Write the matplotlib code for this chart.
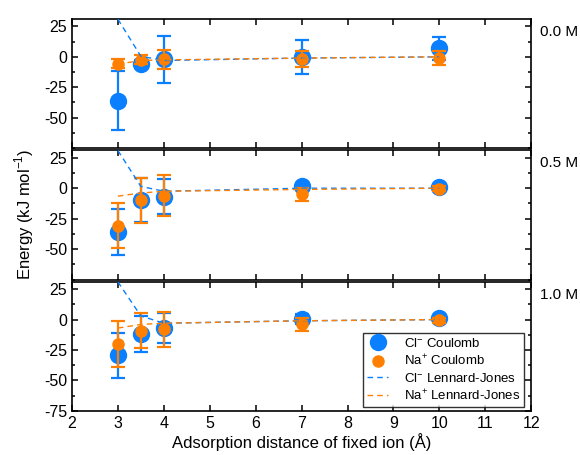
import matplotlib
matplotlib.use('Agg')
import matplotlib.pyplot as plt
from matplotlib.ticker import MultipleLocator

plt.rcParams['font.family'] = ['Liberation Sans', 'DejaVu Sans']
plt.rcParams['axes.unicode_minus'] = False
plt.rcParams['mathtext.fontset'] = 'custom'
plt.rcParams['mathtext.rm'] = 'Liberation Sans'

# Adsorption distances (Å) and salt concentrations
distances = [3, 3.5, 4, 7, 10]
conc_labels = ['0.0 M', '0.5 M', '1.0 M']

# Coulomb energies (kJ/mol) with error bars, one row per concentration
cl_coulomb = [[-36, -5.5, -2, -0.5, 7],
              [-36, -10, -7, 1.5, 1],
              [-29.5, -12, -7, 0.5, 1]]
cl_coulomb_err = [[24, 3, 19.5, 14, 9.5],
                  [19, 18, 14.5, 3, 2],
                  [18.5, 15, 12.5, 4, 2]]
na_coulomb = [[-5.5, -2.3, -2, -2, -1],
              [-31, -10, -6, -5, -0.5],
              [-20, -9, -8, -4, -0.5]]
na_coulomb_err = [[4, 3.7, 8, 6.5, 6],
                  [18.5, 18.5, 16.5, 5.5, 2],
                  [19, 14.5, 14.5, 5, 2]]

# Lennard-Jones energies (kJ/mol)
cl_lj = [[31, 0.5, -3, -1, 0],
         [31, 1.5, -2.5, 0, 0],
         [31, 3, -3, -1, 0]]
na_lj = [[-6, -3, -2.5, -1, 0],
         [-6.5, -4, -2.5, -1, 0],
         [-7, -4, -3, -1, 0]]

blue = '#0a7fff'
orange = '#ff8000'

fig, axes = plt.subplots(3, 1, figsize=(5.8, 4.55), dpi=100, sharex=True)
fig.subplots_adjust(left=0.124, right=0.916, top=0.958, bottom=0.097, hspace=0.018)

for i, ax in enumerate(axes):
    ax.errorbar(distances, cl_coulomb[i], yerr=cl_coulomb_err[i], fmt='none',
                ecolor=blue, elinewidth=1.6, capsize=4.7, capthick=1.6, zorder=2)
    ax.plot(distances, cl_coulomb[i], 'o', color=blue, markersize=11.5,
            label='Cl$^{-}$ Coulomb', zorder=3)
    ax.errorbar(distances, na_coulomb[i], yerr=na_coulomb_err[i], fmt='none',
                ecolor=orange, elinewidth=1.6, capsize=4.7, capthick=1.6, zorder=4)
    ax.plot(distances, na_coulomb[i], 'o', color=orange, markersize=8,
            label='Na$^{+}$ Coulomb', zorder=5)
    ax.plot(distances, cl_lj[i], '--', color=blue, linewidth=1.0, dashes=(4, 3),
            label='Cl$^{-}$ Lennard-Jones', zorder=6)
    ax.plot(distances, na_lj[i], '--', color=orange, linewidth=1.0, dashes=(4, 3),
            label='Na$^{+}$ Lennard-Jones', zorder=6)

    ax.set_xlim(2, 12)
    ax.set_ylim(-75, 31)
    ax.xaxis.set_major_locator(MultipleLocator(1))
    if i < 2:
        ax.set_yticks([25, 0, -25, -50])
    else:
        ax.set_yticks([25, 0, -25, -50, -75])
    ax.yaxis.set_minor_locator(MultipleLocator(12.5))
    ax.tick_params(which='both', direction='in', top=True, right=True,
                   labelsize=11.5, width=1.1)
    ax.tick_params(which='major', length=4)
    ax.tick_params(which='minor', length=2.5)
    for s in ax.spines.values():
        s.set_linewidth(1.2)
    ax.text(1.02, 0.9, conc_labels[i], transform=ax.transAxes,
            fontsize=11, va='center', ha='left')

axes[2].set_xlabel('Adsorption distance of fixed ion (Å)', fontsize=12, labelpad=2)
fig.text(0.042, 0.53, 'Energy (kJ mol$^{-1}$)', rotation=90,
         fontsize=12, ha='center', va='center')

leg = axes[2].legend(loc='lower right', bbox_to_anchor=(0.985, 0.03),
                     fontsize=9.5, frameon=True, fancybox=False,
                     borderaxespad=0, handlelength=1.6, labelspacing=0.25,
                     handletextpad=1.2, borderpad=0.3)
leg.get_frame().set_edgecolor('black')
leg.get_frame().set_linewidth(1.0)

fig.savefig('out.png', dpi=100)
